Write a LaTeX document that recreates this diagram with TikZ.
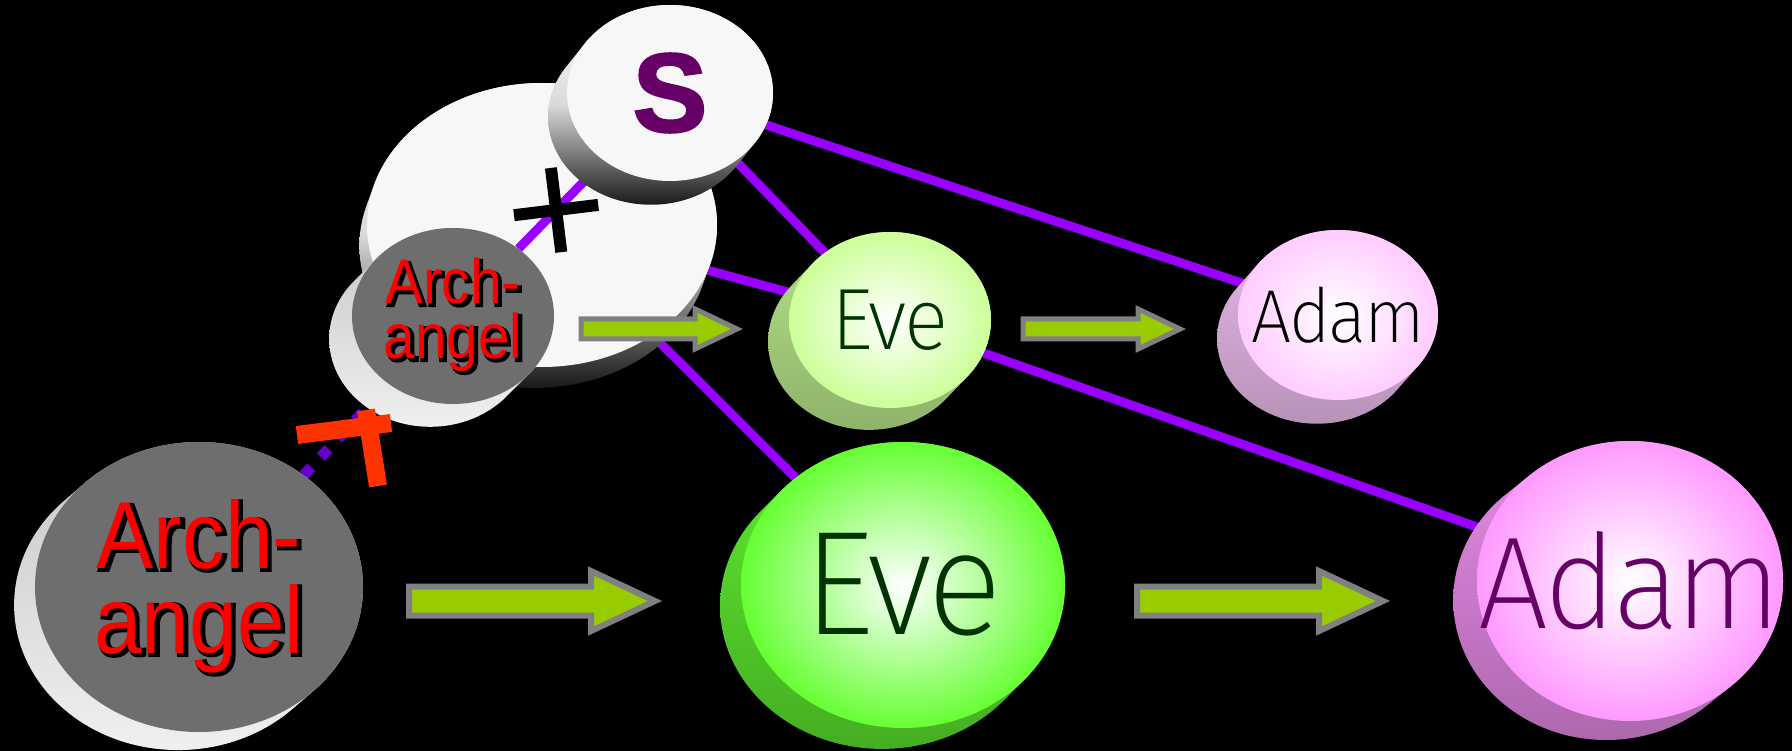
\documentclass[tikz,border=0pt]{standalone}
\usepackage{fontspec}
\usetikzlibrary{calc,shapes.geometric,shapes.misc}
\pgfdeclarelayer{back}
\pgfdeclarelayer{mid}
\pgfsetlayers{back,mid,main}

\newfontfamily\namefont{Fira Sans ExtraLight}[FakeStretch=0.95,LetterSpace=-3]
\newfontfamily\archfont{Liberation Sans}[FakeStretch=0.9]
\newfontfamily\archglow{Liberation Sans}[FakeStretch=0.9,FakeBold=4]
\newfontfamily\sfont{Liberation Sans}[FakeBold=2]

\definecolor{linkpurple}{HTML}{9900FF}
\definecolor{dotpurple}{HTML}{6600CC}
\definecolor{teered}{HTML}{FF3300}
\definecolor{arrowgreen}{HTML}{99CC00}
\definecolor{arrowrim}{HTML}{808080}
\definecolor{namegreen}{HTML}{003300}
\definecolor{plum}{HTML}{660066}
\definecolor{evelight}{HTML}{CCFF99}
\definecolor{evebright}{HTML}{66FF33}
\definecolor{adamlight}{HTML}{FFCCFF}
\definecolor{adambright}{HTML}{FF99FF}
\definecolor{archgray}{HTML}{6E6E6E}

\newcommand{\nm}[1]{\makebox[0pt]{#1}}
\newcommand{\glowline}[1]{\makebox[0pt]{\kern5pt\raisebox{-2pt}{\color{black}\archglow #1}}\makebox[0pt]{\color{red}\archfont #1}}

% disk: name, centre, x radius, y radius, depth, side style, face style, text
\newcommand{\disk}[8]{%
  \shade[#6] foreach \kk in {0,0.05,...,1} {($(#2)+\kk*(#5)$) ellipse [x radius=#3, y radius=#4]};
  \node[face,#7,minimum width=2*#3,minimum height=2*#4] (#1) at (#2) {#8};
}
% block arrow: style, from x, to x, y, half shaft, half head, head length
\newcommand{\fatarrow}[7]{%
  \draw[#1] (#2,#4-#5) -- (#3-#7,#4-#5) -- (#3-#7,#4-#6) -- (#3,#4)
    -- (#3-#7,#4+#6) -- (#3-#7,#4+#5) -- (#2,#4+#5) -- cycle;
}

\tikzset{
  face/.style={ellipse,inner sep=0pt,align=center},
  link/.style={draw=linkpurple,line width=9pt},
  dotlink/.style={draw=dotpurple,line width=11pt,dash pattern=on 11pt off 14pt},
  teebar/.style={draw=teered,line width=18pt},
  plusmark/.style={cross out,draw=black,line width=12pt,minimum size=48pt,inner sep=0pt,rotate=52},
  smallarrow/.style={fill=arrowgreen,draw=arrowrim,line width=5pt},
  bigarrow/.style={smallarrow,line width=6pt},
  archside/.style={top color=black!22,bottom color=black!6},
  whiteside/.style={top color=white,bottom color=black!90,middle color=black!15},
  evesside/.style={top color=evelight!88!black,bottom color=evelight!70!black},
  evebside/.style={top color=evebright!92!black,bottom color=evebright!68!black},
  adamsside/.style={top color=adamlight!90!black,bottom color=adamlight!72!black},
  adambside/.style={top color=adambright!90!black,bottom color=adambright!68!black}
}

\begin{document}
\begin{tikzpicture}[x=1pt,y=-1pt]
\useasboundingbox (0,0) rectangle (1792,751);

% archangels
\disk{archB}{199,587}{164}{145}{-22,19}{archside}{fill=archgray,font={\fontsize{95}{85}\selectfont}}{\glowline{Arch-}\\\glowline{angel}}
\disk{archS}{453,316}{101}{88}{-24,24}{archside}{fill=archgray,font={\fontsize{63}{55}\selectfont}}{\glowline{Arch-}\\\glowline{angel}}

% s
\disk{s}{670,93}{103}{88}{-20,25}{whiteside}{fill=white!97!black,text=plum,font={\sfont\bfseries\fontsize{112}{112}\selectfont}}{S}

% eve and adam
\disk{eveS}{890,320}{101}{88}{-22,23}{evesside}{inner color=white,outer color=evelight,text=namegreen,font={\namefont\fontsize{87}{90}\selectfont}}{\nm{Eve}}
\disk{adamS}{1338,315}{100}{85}{-22,25}{adamsside}{inner color=white,outer color=adamlight,text=black,font={\namefont\fontsize{75}{80}\selectfont}}{\nm{Adam}}
\disk{eveB}{903,585}{162}{143}{-22,22}{evebside}{inner color=white,outer color=evebright,text=namegreen,font={\namefont\fontsize{148}{150}\selectfont}}{\nm{Eve}}
\disk{adamB}{1630,581}{153}{140}{-25,20}{adambside}{inner color=white,outer color=adambright,text=plum,font={\namefont\fontsize{131}{135}\selectfont}}{\nm{Adam}}

% arrows
\fatarrow{smallarrow}{581}{737}{329}{10}{20}{42}
\fatarrow{smallarrow}{1023}{1180}{329}{10}{20}{42}
\fatarrow{bigarrow}{409}{655}{601}{14.5}{30}{64}
\fatarrow{bigarrow}{1137}{1383}{601}{14.5}{30}{64}

% block on the small archangel
\draw[teebar] (297,435) -- (391,423);
\draw[teebar] (366,410) -- (378,486);

\begin{pgfonlayer}{mid}
\disk{bigwhite}{542,225}{175}{142}{-8,22}{whiteside}{fill=white!97!black}{}
\draw[link] (s) -- node[plusmark,pos=0.56] {} (archS);
\end{pgfonlayer}

\begin{pgfonlayer}{back}
\fill[black] (0,0) rectangle (1792,751);
\draw[link] (s) -- (adamS);
\draw[link] (s) -- (eveS);
\draw[link] (bigwhite) -- (eveS);
\draw[link] (bigwhite) -- (eveB);
\draw[link] (eveS) -- (adamB);
\draw[dotlink] (archB) -- (archS);
\end{pgfonlayer}

\end{tikzpicture}
\end{document}
